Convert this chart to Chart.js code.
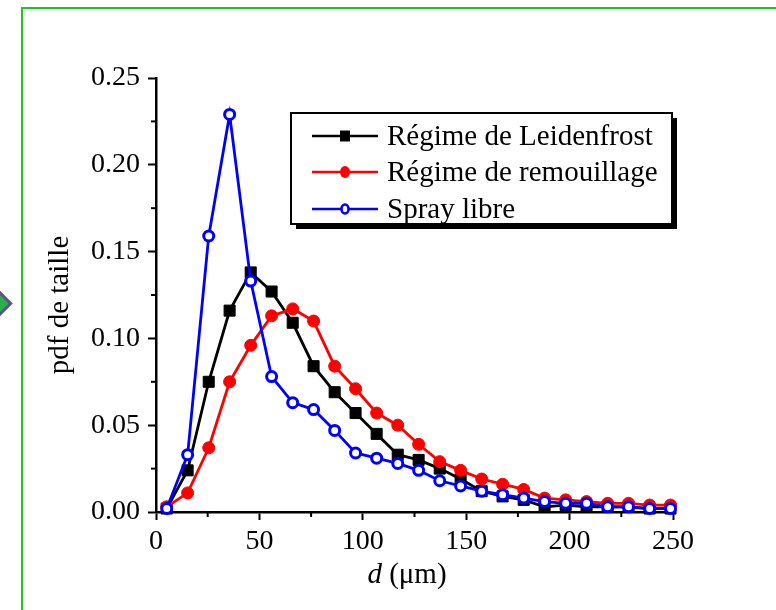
<!DOCTYPE html>
<html>
<head>
<meta charset="utf-8">
<script src="https://cdn.jsdelivr.net/npm/chart.js@4.4.0/dist/chart.umd.min.js"></script>
<style>
  html, body { margin: 0; padding: 0; background: #fff; }
  #wrap { position: relative; width: 776px; height: 610px; overflow: hidden; background: #fff; }
  #sizeChart { position: absolute; left: 0; top: 0; }
  .frame-v { position: absolute; left: 21px; top: 7px; width: 2px; height: 603px; background: #1cc81c; }
  .frame-h { position: absolute; left: 21px; top: 7px; width: 755px; height: 2px; background: #1cc81c; }
  .nav-mark { position: absolute; left: -15px; top: 292px; width: 17px; height: 17px;
              transform: rotate(45deg); background: #2aae4e; border: 3px solid #55558c; }
</style>
</head>
<body>
<div id="wrap">
  <canvas id="sizeChart" width="776" height="610"></canvas>
  <div class="frame-v"></div>
  <div class="frame-h"></div>
  <div class="nav-mark"></div>
</div>
<script>
// diamètres (centres de classes, µm)
const diametres = [5.2, 15.3, 25.5, 35.6, 45.8, 55.9, 66.1, 76.2, 86.4, 96.5, 106.7, 116.9, 127.0,
                   137.2, 147.3, 157.5, 167.6, 177.8, 187.9, 198.1, 208.2, 218.4, 228.5, 238.7, 248.8];

const pdfLeidenfrost = [0.002, 0.024, 0.075, 0.116, 0.138, 0.127, 0.109, 0.084, 0.069, 0.057, 0.045, 0.033, 0.030,
                        0.025, 0.019, 0.012, 0.009, 0.007, 0.003, 0.004, 0.003, 0.003, 0.003, 0.002, 0.002];
const pdfRemouillage = [0.003, 0.011, 0.037, 0.075, 0.096, 0.113, 0.117, 0.110, 0.084, 0.071, 0.057, 0.050, 0.039,
                        0.029, 0.024, 0.019, 0.016, 0.013, 0.008, 0.007, 0.006, 0.005, 0.005, 0.004, 0.004];
const pdfSpray = [0.002, 0.033, 0.159, 0.229, 0.133, 0.078, 0.063, 0.059, 0.047, 0.034, 0.031, 0.028, 0.024,
                  0.018, 0.015, 0.012, 0.010, 0.008, 0.006, 0.005, 0.005, 0.003, 0.003, 0.002, 0.002];

const nomsSeries = ['Régime de Leidenfrost', 'Régime de remouillage', 'Spray libre'];

const xTicks = [0, 50, 100, 150, 200, 250];
const yTicks = [0, 0.05, 0.10, 0.15, 0.20, 0.25];
const xMinorTicks = [25, 75, 125, 175, 225];
const yMinorTicks = [0.025, 0.075, 0.125, 0.175, 0.225];

const SERIF = '"Liberation Serif", "Times New Roman", serif';
const LINE_W = 2.8;

const toPoints = ys => diametres.map((d, i) => ({ x: d, y: ys[i] }));

// ticks secondaires, titres d'axes et légende encadrée
const decorPlugin = {
    id: 'decor',
    afterDraw(chart) {
        const ctx = chart.ctx;
        const xs = chart.scales.x, ys = chart.scales.y;
        const area = chart.chartArea;

        ctx.save();
        ctx.strokeStyle = '#000';
        ctx.lineWidth = 2;
        xMinorTicks.forEach(v => {
            const px = xs.getPixelForValue(v);
            ctx.beginPath();
            ctx.moveTo(px, area.bottom);
            ctx.lineTo(px, area.bottom + 5);
            ctx.stroke();
        });
        yMinorTicks.forEach(v => {
            const py = ys.getPixelForValue(v);
            ctx.beginPath();
            ctx.moveTo(area.left, py);
            ctx.lineTo(area.left - 5, py);
            ctx.stroke();
        });

        // titre de l'axe y
        ctx.fillStyle = '#000';
        ctx.font = '29px ' + SERIF;
        ctx.textAlign = 'center';
        ctx.textBaseline = 'middle';
        ctx.save();
        ctx.translate(60, 305);
        ctx.rotate(-Math.PI / 2);
        ctx.fillText('pdf de taille', 0, 0);
        ctx.restore();

        // titre de l'axe x : "d" en italique
        const italic = 'italic 29px ' + SERIF, regular = '29px ' + SERIF;
        ctx.font = italic;
        const wD = ctx.measureText('d').width;
        ctx.font = regular;
        const wRest = ctx.measureText(' (μm)').width;
        let tx = 407 - (wD + wRest) / 2;
        ctx.textAlign = 'left';
        ctx.font = italic;
        ctx.fillText('d', tx, 575);
        ctx.font = regular;
        ctx.fillText(' (μm)', tx + wD, 575);

        // légende
        const box = { x: 291, y: 113, w: 381, h: 111 };
        ctx.fillStyle = '#000';
        ctx.fillRect(box.x + 5, box.y + 5, box.w, box.h);
        ctx.fillStyle = '#fff';
        ctx.fillRect(box.x, box.y, box.w, box.h);
        ctx.lineWidth = 2;
        ctx.strokeStyle = '#000';
        ctx.strokeRect(box.x, box.y, box.w, box.h);

        const rows = [136, 172, 209];
        chart.data.datasets.forEach((ds, i) => {
            const yRow = rows[i];
            ctx.strokeStyle = ds.borderColor;
            ctx.lineWidth = 2.4;
            ctx.beginPath();
            ctx.moveTo(312, yRow);
            ctx.lineTo(378, yRow);
            ctx.stroke();
            if (ds.pointStyle === 'rect') {
                ctx.fillStyle = ds.borderColor;
                ctx.fillRect(340, yRow - 5.5, 10, 11);
            } else if (ds.pointBackgroundColor === '#ffffff') {
                ctx.fillStyle = '#fff';
                ctx.lineWidth = 2.6;
                ctx.beginPath();
                ctx.ellipse(345, yRow, 3.5, 4.5, 0, 0, Math.PI * 2);
                ctx.fill();
                ctx.stroke();
            } else {
                ctx.fillStyle = ds.borderColor;
                ctx.beginPath();
                ctx.ellipse(345, yRow, 5, 6, 0, 0, Math.PI * 2);
                ctx.fill();
            }
            ctx.fillStyle = '#000';
            ctx.font = '29px ' + SERIF;
            ctx.textAlign = 'left';
            ctx.textBaseline = 'middle';
            ctx.fillText(nomsSeries[i], 387, yRow + 1);
        });
        ctx.restore();
    }
};

const axisCommon = {
    type: 'linear',
    grid: { display: true, drawOnChartArea: false, drawTicks: true, tickLength: 8, tickWidth: 2, tickColor: '#000' },
    border: { display: true, color: '#000', width: 2.5 },
};

new Chart(document.getElementById('sizeChart'), {
    type: 'line',
    data: {
        datasets: [
            {
                label: nomsSeries[0],
                data: toPoints(pdfLeidenfrost),
                borderColor: '#000000',
                backgroundColor: '#000000',
                pointBackgroundColor: '#000000',
                borderWidth: LINE_W,
                pointStyle: 'rect',
                pointRadius: 7.8,
                pointBorderWidth: 1,
                order: 2,
                clip: false
            },
            {
                label: nomsSeries[1],
                data: toPoints(pdfRemouillage),
                borderColor: '#ff0000',
                backgroundColor: '#ff0000',
                pointBackgroundColor: '#ff0000',
                borderWidth: LINE_W,
                pointStyle: 'circle',
                pointRadius: 6,
                pointBorderWidth: 1,
                order: 1,
                clip: false
            },
            {
                label: nomsSeries[2],
                data: toPoints(pdfSpray),
                borderColor: '#0000ff',
                backgroundColor: '#0000ff',
                pointBackgroundColor: '#ffffff',
                borderWidth: LINE_W,
                pointStyle: 'circle',
                pointRadius: 5,
                pointBorderWidth: 3,
                order: 0,
                clip: false
            }
        ]
    },
    options: {
        responsive: false,
        animation: false,
        devicePixelRatio: 1,
        layout: { padding: { top: 78, right: 103, left: 0, bottom: 0 } },
        plugins: {
            legend: { display: false },
            tooltip: { enabled: false }
        },
        scales: {
            x: {
                ...axisCommon,
                min: 0, max: 250,
                afterBuildTicks: s => { s.ticks = xTicks.map(v => ({ value: v })); },
                afterFit: s => { s.height = 98; },
                ticks: { color: '#000', font: { family: SERIF, size: 28 }, padding: 5, maxRotation: 0 }
            },
            y: {
                ...axisCommon,
                min: 0, max: 0.25,
                afterBuildTicks: s => { s.ticks = yTicks.map(v => ({ value: v })); },
                afterFit: s => { s.width = 156; },
                ticks: {
                    color: '#000', font: { family: SERIF, size: 28 }, padding: 8,
                    callback: v => v.toFixed(2)
                }
            }
        }
    },
    plugins: [decorPlugin]
});
</script>
</body>
</html>
